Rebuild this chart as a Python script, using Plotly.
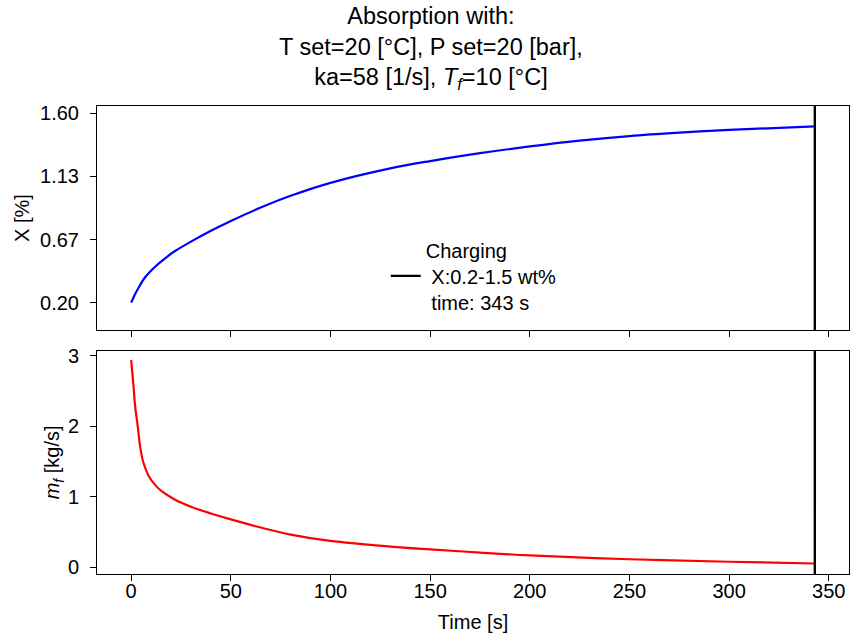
import plotly.graph_objects as go
from plotly.subplots import make_subplots

# ---- data ----
t_X = [0, 2, 4.5, 7, 12, 17, 22, 30, 40, 50, 65, 80, 100, 130, 150, 175, 200, 225, 250, 275, 300, 343]
X_pct = [0.20, 0.264, 0.331, 0.388, 0.466, 0.528, 0.582, 0.651, 0.731, 0.804, 0.903, 0.990,
         1.086, 1.193, 1.247, 1.305, 1.355, 1.398, 1.432, 1.457, 1.477, 1.504]

t_m = [0, 1.2, 2, 3.3, 4.5, 6.2, 8.7, 12, 15.3, 22, 30, 40, 50, 65, 80, 100, 130, 150,
       175, 200, 250, 300, 343]
m_f = [2.94, 2.56, 2.28, 2.00, 1.71, 1.48, 1.30, 1.17, 1.08, 0.96, 0.86, 0.765, 0.68,
       0.565, 0.465, 0.375, 0.295, 0.255, 0.21, 0.17, 0.115, 0.08, 0.055]

t_end = 343
legend_label = "Charging<br>\u00a0X:0.2-1.5 wt%<br>\u00a0time: 343 s"

x_ticks = [0, 50, 100, 150, 200, 250, 300, 350]
X_ticks = [0.2, 0.6667, 1.1333, 1.6]
X_ticktext = ["0.20", "0.67", "1.13", "1.60"]
m_ticks = [0, 1, 2, 3]

X_range = [-0.002, 1.654]
m_range = [-0.094, 3.072]
t_range = [-17.15, 360.15]

FONT = "Liberation Sans, Arial, sans-serif"
FS = 20

fig = make_subplots(rows=2, cols=1, shared_xaxes=True)

fig.add_trace(go.Scatter(x=t_X, y=X_pct, mode="lines", line=dict(color="blue", width=2.2, shape="spline"),
                         showlegend=False), row=1, col=1)
fig.add_trace(go.Scatter(x=[t_end, t_end], y=X_range, mode="lines", line=dict(color="black", width=2.4),
                         name=legend_label, showlegend=True), row=1, col=1)
fig.add_trace(go.Scatter(x=t_m, y=m_f, mode="lines", line=dict(color="red", width=2.2, shape="spline"),
                         showlegend=False), row=2, col=1)
fig.add_trace(go.Scatter(x=[t_end, t_end], y=m_range, mode="lines", line=dict(color="black", width=2.4),
                         showlegend=False), row=2, col=1)

axis_common = dict(showline=True, linecolor="black", linewidth=1, mirror=True, ticks="outside",
                   ticklen=6, tickwidth=1, tickcolor="black", showgrid=False, zeroline=False,
                   tickfont=dict(size=FS, color="black", family=FONT))

fig.update_xaxes(**axis_common, range=t_range, tickvals=x_ticks, ticklabelstandoff=-7)
fig.update_xaxes(showticklabels=False, row=1, col=1)
fig.update_xaxes(title=dict(text="Time [s]", font=dict(size=FS, color="black", family=FONT), standoff=13),
                 row=2, col=1)
fig.update_yaxes(**axis_common, ticklabelstandoff=7)
fig.update_yaxes(range=X_range, tickvals=X_ticks, ticktext=X_ticktext,
                 title=dict(text="X [%]", font=dict(size=FS, color="black", family=FONT), standoff=5),
                 domain=[0.5214, 1.0], row=1, col=1)
fig.update_yaxes(range=m_range, tickvals=m_ticks,
                 title=dict(text="<i>m</i><sub><i>f</i></sub> [kg/s]", font=dict(size=FS, color="black", family=FONT),
                            standoff=2),
                 domain=[0.0, 0.477], row=2, col=1)

fig.update_layout(
    width=850, height=639,
    margin=dict(l=97, r=1, t=106, b=65),
    paper_bgcolor="white", plot_bgcolor="white",
    font=dict(family=FONT, color="black", size=FS),
    title=dict(text="Absorption with:<br>T set=20 [°C], P set=20 [bar],<br>ka=58 [1/s], <i>T</i><sub><i>f</i></sub>=10 [°C]",
               x=0.507, xanchor="center", xref="container", y=0.962, yanchor="top", yref="container",
               font=dict(size=23.5, color="black", family=FONT)),
    legend=dict(x=0.384, xanchor="left", y=0.637, yanchor="middle", bgcolor="rgba(0,0,0,0)",
                borderwidth=0, font=dict(size=FS, color="black", family=FONT), valign="middle",
                tracegroupgap=0),
)

fig.write_html("out.html")
